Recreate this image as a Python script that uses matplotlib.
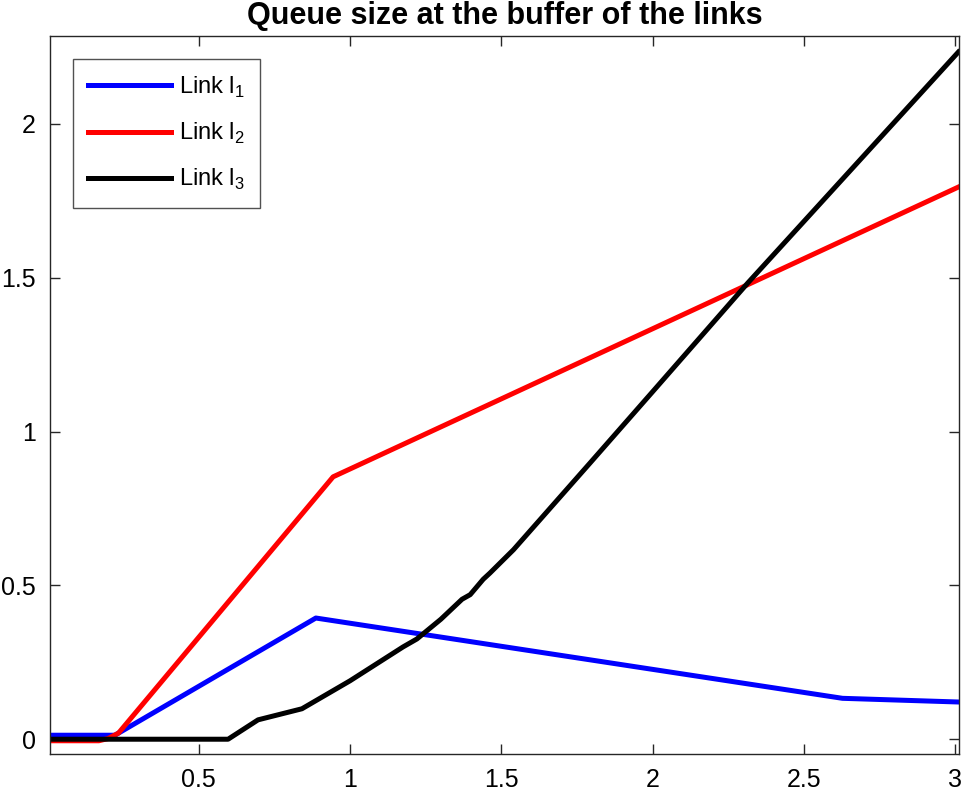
import matplotlib
matplotlib.use("Agg")
import matplotlib.pyplot as plt

# Data
x_l1 = [0.01, 0.223, 0.887, 2.627, 3.01]
y_l1 = [0.013, 0.013, 0.394, 0.133, 0.121]

x_l2 = [0.01, 0.17, 0.20, 0.235, 0.944, 3.01]
y_l2 = [-0.005, -0.005, 0.002, 0.02, 0.853, 1.795]

x_l3 = [0.01, 0.597, 0.696, 0.841, 1.0, 1.175, 1.221, 1.30, 1.37, 1.397, 1.44, 1.462,
        1.54, 1.793, 2.0, 2.314, 3.01]
y_l3 = [0.0, 0.0, 0.063, 0.099, 0.19, 0.30, 0.326, 0.39, 0.455, 0.47, 0.52, 0.54,
        0.616, 0.898, 1.13, 1.483, 2.234]

labels = [r'Link l$_{\mathregular{1}}$', r'Link l$_{\mathregular{2}}$', r'Link l$_{\mathregular{3}}$']
colors = ['#0000ff', '#ff0000', '#000000']
title = 'Queue size at the buffer of the links'
xticks = [0.5, 1, 1.5, 2, 2.5, 3]
yticks = [0, 0.5, 1, 1.5, 2]

plt.rcParams['font.family'] = ['Liberation Sans', 'DejaVu Sans']
plt.rcParams['mathtext.fontset'] = 'custom'
plt.rcParams['mathtext.rm'] = 'Liberation Sans'

fig = plt.figure(figsize=(9.63, 7.96), dpi=100)
ax = fig.add_axes([50/963, 1 - 754.3/796, (959-50)/963, (754.3-36)/796])

for xs, ys, c, lab in zip([x_l1, x_l2, x_l3], [y_l1, y_l2, y_l3], colors, labels):
    ax.plot(xs, ys, color=c, lw=3.6, label=lab, solid_joinstyle='round')

ax.set_xlim(0.0086, 3.012)
ax.set_ylim(-0.049, 2.286)
ax.set_xticks(xticks)
ax.set_xticklabels(['0.5', '1', '1.5', '2', '2.5', '3'])
ax.set_yticks(yticks)
ax.set_yticklabels(['0', '0.5', '1', '1.5', '2'])
edge = '#262626'
for s in ax.spines.values():
    s.set_color(edge)
    s.set_linewidth(1.0)
ax.tick_params(direction='in', length=7, width=1.0, color=edge, top=True, right=True,
               labelsize=18, labelcolor='#000000', pad=10)
ax.set_title(title, fontsize=22, fontweight='bold', pad=8.5)

leg = ax.legend(loc='upper left', bbox_to_anchor=(23/909, 1 - 23/718), fontsize=17,
                frameon=True, fancybox=False, edgecolor=edge, handlelength=3.5,
                borderpad=0.65, labelspacing=0.9, handletextpad=0.35, borderaxespad=0)
leg.get_frame().set_linewidth(1.0)

fig.savefig('out.png', dpi=100)
